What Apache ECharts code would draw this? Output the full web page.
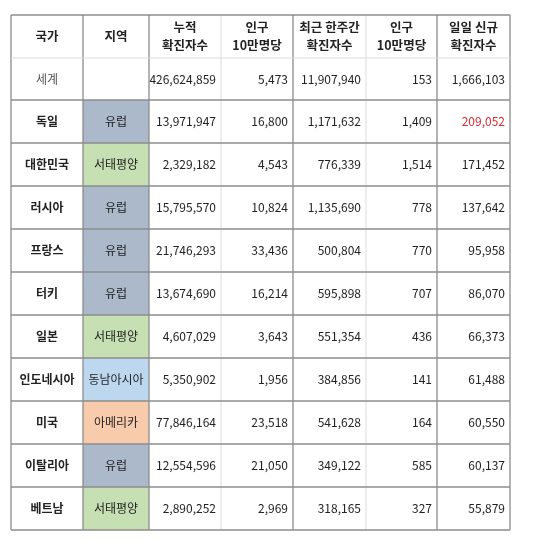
<!DOCTYPE html>
<html><head><meta charset="utf-8">
<script src="https://cdn.jsdelivr.net/npm/echarts@6/dist/echarts.min.js"></script>
<style>html,body{margin:0;background:#fff}#c{width:550px;height:550px}</style>
</head><body><div id="c"></div>
<script>
const headers = ['국가','지역','누적\n확진자수','인구\n10만명당','최근 한주간\n확진자수','인구\n10만명당','일일 신규\n확진자수'];
const countries = ['세계','독일','대한민국','러시아','프랑스','터키','일본','인도네시아','미국','이탈리아','베트남'];
const regions = ['','유럽','서태평양','유럽','유럽','유럽','서태평양','동남아시아','아메리카','유럽','서태평양'];
const cumulative = [426624859,13971947,2329182,15795570,21746293,13674690,4607029,5350902,77846164,12554596,2890252];
const cumPer100k = [5473,16800,4543,10824,33436,16214,3643,1956,23518,21050,2969];
const weekly = [11907940,1171632,776339,1135690,500804,595898,551354,384856,541628,349122,318165];
const weeklyPer100k = [153,1409,1514,778,770,707,436,141,164,585,327];
const daily = [1666103,209052,171452,137642,95958,86070,66373,61488,60550,60137,55879];

const regionColor = {'유럽':'#acb9ca','서태평양':'#c6e0b4','동남아시아':'#bdd7ee','아메리카':'#f8cbad','':'#ffffff'};
const colEdges = [0,72,138,210,282,355,426,499];
const rowEdges = [0,43,85,128,171,214,257,300,343,386,429,472,515];
const fmt = v => v.toLocaleString('en-US');

const cells = [];
headers.forEach((h,c)=>cells.push([c,0,h,'h']));
countries.forEach((n,i)=>{
  const r=i+1;
  cells.push([0,r,n,i===0?'world':'name']);
  cells.push([1,r,regions[i],'region']);
  [cumulative,cumPer100k,weekly,weeklyPer100k,daily].forEach((arr,k)=>{
    cells.push([k+2,r,fmt(arr[i]),(k===4&&i===1)?'red':'num']);
  });
});

const font = '"Noto Sans CJK KR", sans-serif';
const chart = echarts.init(document.getElementById('c'));
chart.setOption({
  animation:false,
  grid:{left:11,right:40,top:15,bottom:20},
  xAxis:{type:'value',min:0,max:499,show:false},
  yAxis:{type:'value',min:0,max:515,inverse:true,show:false},
  series:[{
    type:'custom',
    data:cells,
    renderItem(params,api){
      const c=api.value(0), r=api.value(1);
      const d=cells[params.dataIndex];
      const p0=api.coord([colEdges[c],rowEdges[r]]);
      const p1=api.coord([colEdges[c+1],rowEdges[r+1]]);
      const w=p1[0]-p0[0], h=p1[1]-p0[1];
      const kind=d[3], text=d[2];
      const children=[];
      let fill='#fff';
      if(kind==='region') fill=regionColor[text];
      children.push({type:'rect',shape:{x:p0[0],y:p0[1],width:w,height:h},style:{fill:fill,stroke:null}});
      const isNum = kind==='num'||kind==='red';
      children.push({type:'text',style:{
        text:text,
        x:isNum?p1[0]-5:p0[0]+w/2, y:p0[1]+h/2,
        align:isNum?'right':'center', verticalAlign:'middle',
        font:((kind==='h'||kind==='name')?'bold ':'')+(kind==='h'?'12.5px ':'12px ')+font,
        lineHeight:18,
        fill:kind==='red'?'#e0282e':(kind==='world'?'#555':'#222')
      }});
      return {type:'group',children};
    }
  },{
    type:'custom',
    data:[0],
    renderItem(params,api){
      const ch=[];
      const top=api.coord([0,0])[1], bot=api.coord([0,515])[1];
      const lef=api.coord([0,0])[0], rig=api.coord([499,0])[0];
      colEdges.forEach((x,i)=>{
        const px=api.coord([x,0])[0];
        const light=(i===3||i===5);
        ch.push({type:'line',shape:{x1:px,y1:top,x2:px,y2:bot},style:{stroke:light?'#dcdcdc':'#8c8c8c',lineWidth:light?1:1.3}});
      });
      rowEdges.forEach((y,i)=>{
        const py=api.coord([0,y])[1];
        const light=(i===1);
        ch.push({type:'line',shape:{x1:lef,y1:py,x2:rig,y2:py},style:{stroke:light?'#dcdcdc':'#8c8c8c',lineWidth:light?1:1.3}});
      });
      return {type:'group',children:ch};
    }
  }]
});
</script></body></html>
